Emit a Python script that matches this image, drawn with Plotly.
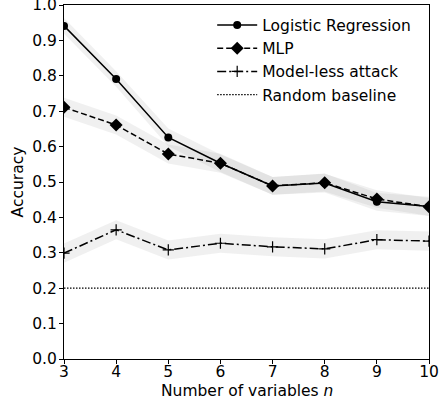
import plotly.graph_objects as go

# Number of variables
n_vars = [3, 4, 5, 6, 7, 8, 9, 10]

# Mean accuracy per method
acc_logreg = [0.941, 0.791, 0.626, 0.553, 0.489, 0.497, 0.444, 0.431]
acc_mlp = [0.711, 0.661, 0.579, 0.553, 0.489, 0.498, 0.452, 0.430]
acc_modelless = [0.299, 0.365, 0.308, 0.327, 0.317, 0.311, 0.337, 0.333]
acc_random = [0.2] * len(n_vars)

# Spread (shaded band half-width) per method
spread_logreg = [0.022, 0.022, 0.025, 0.025, 0.025, 0.027, 0.025, 0.027]
spread_mlp = [0.027, 0.027, 0.027, 0.027, 0.025, 0.025, 0.025, 0.025]
spread_modelless = [0.027, 0.027, 0.027, 0.027, 0.027, 0.027, 0.027, 0.027]

FONT = "DejaVu Sans"
FS = 15.5
BAND = "rgba(150,150,150,0.14)"

fig = go.Figure()


def add_band(mean, spread):
    upper = [m + s for m, s in zip(mean, spread)]
    lower = [m - s for m, s in zip(mean, spread)]
    fig.add_trace(go.Scatter(
        x=n_vars + n_vars[::-1],
        y=upper + lower[::-1],
        fill="toself",
        fillcolor=BAND,
        line=dict(width=0),
        mode="lines",
        hoverinfo="skip",
        showlegend=False,
    ))


add_band(acc_logreg, spread_logreg)
add_band(acc_mlp, spread_mlp)
add_band(acc_modelless, spread_modelless)

fig.add_trace(go.Scatter(
    x=n_vars, y=acc_logreg, name="Logistic Regression", legendgroup="a",
    mode="lines+markers",
    line=dict(color="black", width=1.5, dash="solid"),
    marker=dict(symbol="circle", size=8, color="black"),
))
fig.add_trace(go.Scatter(
    x=n_vars, y=acc_mlp, name="MLP", legendgroup="b",
    mode="lines+markers",
    line=dict(color="black", width=1.5, dash="6px,3px"),
    marker=dict(symbol="diamond", size=10, color="black"),
))
fig.add_trace(go.Scatter(
    x=n_vars, y=acc_modelless, name="Model-less attack", legendgroup="c",
    mode="lines+markers",
    line=dict(color="black", width=1.5, dash="9px,3px,2px,3px"),
    marker=dict(symbol="cross-thin", size=8, color="black",
                line=dict(color="black", width=1.2)),
))
fig.add_trace(go.Scatter(
    x=n_vars, y=acc_random, name="Random baseline", legendgroup="d",
    mode="lines",
    line=dict(color="black", width=1.2, dash="1.5px,1.5px"),
))

axis_common = dict(
    showgrid=False, zeroline=False,
    showline=True, linecolor="black", linewidth=1, mirror=True,
    ticks="outside", ticklen=4, tickwidth=1, tickcolor="black",
    tickfont=dict(family=FONT, size=FS, color="black"),
    ticklabeloverflow="allow",
    automargin=False,
)

fig.update_xaxes(
    range=[3, 10], tickvals=n_vars, ticktext=[str(v) for v in n_vars],
    ticklabelstandoff=-6,
    **axis_common,
)
fig.update_yaxes(
    range=[0, 1], tickvals=[i / 10 for i in range(11)],
    ticktext=[f"{i / 10:.1f}" for i in range(11)],
    ticklabelstandoff=-1,
    title=dict(text="Accuracy", standoff=4,
               font=dict(family=FONT, size=FS, color="black")),
    **axis_common,
)

# x-axis title placed just below the tick labels
fig.add_annotation(
    text="Number of variables <i>n</i>",
    xref="paper", yref="paper", x=0.5, y=-0.09,
    xanchor="center", yanchor="middle", showarrow=False,
    font=dict(family=FONT, size=FS, color="black"),
)

fig.update_layout(
    width=444, height=406,
    margin=dict(l=64, r=15, t=5, b=47),
    paper_bgcolor="white", plot_bgcolor="white",
    font=dict(family=FONT, size=FS, color="black"),
    legend=dict(
        x=0.406, y=0.99, xanchor="left", yanchor="top",
        traceorder="grouped", tracegroupgap=0,
        bgcolor="rgba(255,255,255,0)", borderwidth=0,
        font=dict(family=FONT, size=FS, color="black"),
        itemwidth=40,
    ),
)

fig.write_html("out.html")
